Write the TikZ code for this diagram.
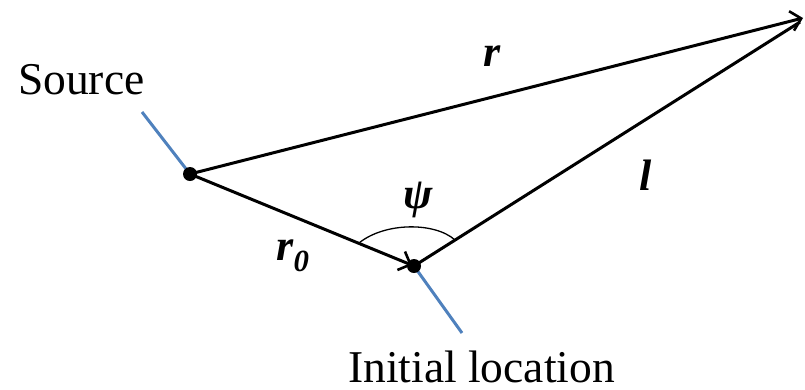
\documentclass[tikz,border=0pt]{standalone}
\usepackage{fontspec}
\setmainfont{Liberation Serif}
\usetikzlibrary{arrows.meta}
\definecolor{pinblue}{RGB}{79,129,189}
\begin{document}
\begin{tikzpicture}[x=1pt,y=-1pt,
  vec/.style={line width=3pt,black},
  tip/.style={-{Straight Barb[length=10pt,width=20pt,line width=2.6pt]}},
  pin/.style={line width=3pt,pinblue},
  dot/.style={circle,fill=black,inner sep=0pt,minimum size=14pt},
  lbl/.style={font=\fontsize{45.5}{46}\selectfont,inner sep=0pt},
  sym/.style={font=\fontsize{44}{44}\selectfont\bfseries\itshape,inner sep=0pt}]
\useasboundingbox (0,0) rectangle (805,389);
\coordinate (S) at (190,174);
\coordinate (I) at (414,266);
\coordinate (T) at (803,18);
\coordinate (Sa) at (142,112);
\coordinate (Ib) at (462,333);
\draw[pin] (Sa) -- (S);
\draw[pin] (I) -- (Ib);
\draw[vec,tip] (S) -- (T);
\draw[vec,tip,shorten >=2pt] (S) -- (I);
\draw[vec] (I) -- (800,22);
\coordinate (A1) at (359,243);
\coordinate (A2) at (455,240);
\draw[line width=1.3pt] (A1) .. controls (385,222) and (435,222) .. (A2);
\node[dot] (s) at (S) {};
\node[dot] (i) at (I) {};
\node[lbl,anchor=base west] (src) at (18,94) {Source};
\node[lbl,anchor=base west] (ini) at (348,382) {Initial location};
\node[sym,anchor=base] (r) at (492,66) {r};
\node[sym,anchor=base] (l) at (646,190) {l};
\node[sym,anchor=base] (psi) at (418,208) {ψ};
\node[sym,anchor=base] (r0) at (293,260) {r\textsubscript{0}};
\end{tikzpicture}
\end{document}
